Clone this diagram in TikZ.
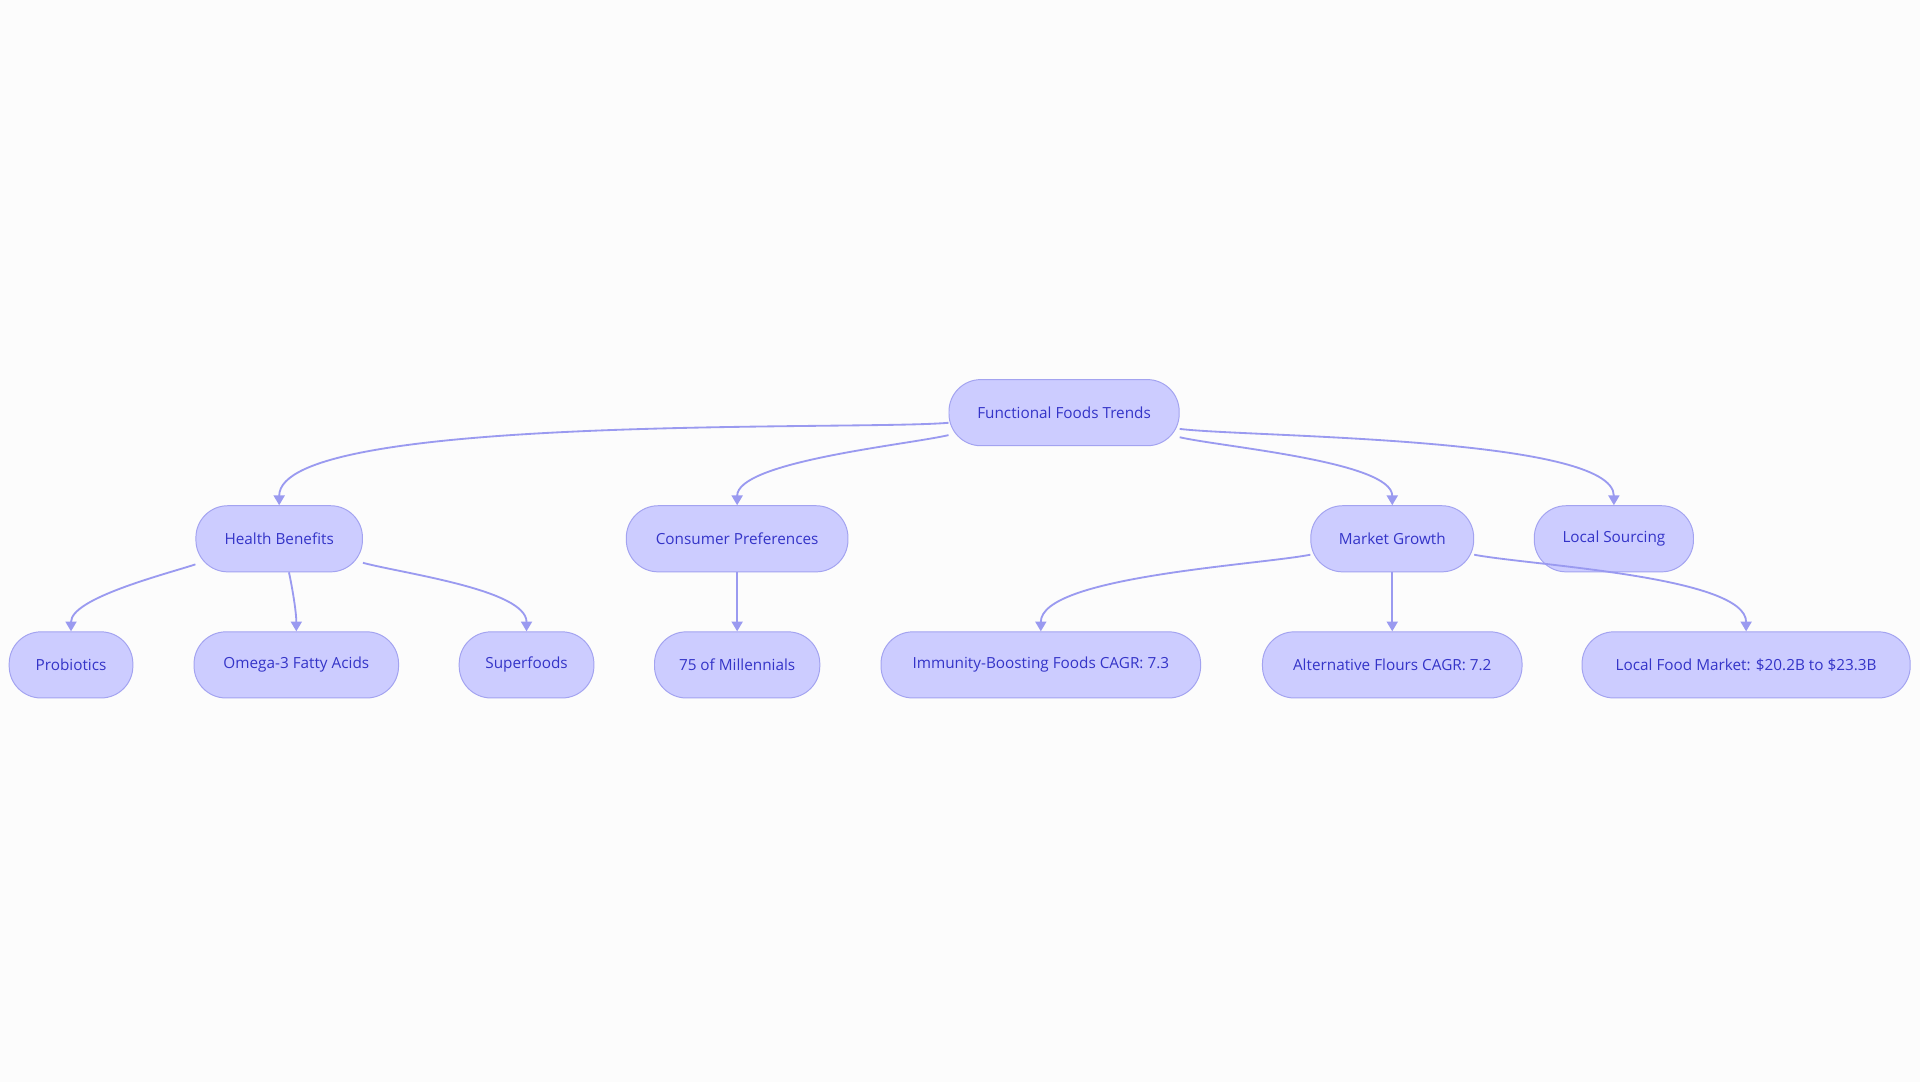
\documentclass[tikz,border=0pt]{standalone}
\usepackage{fontspec}
\setmainfont{Open Sans}
\usetikzlibrary{arrows.meta}
\definecolor{nfill}{HTML}{CCCCFF}
\definecolor{nline}{HTML}{A3A3F0}
\definecolor{ntext}{HTML}{3434C8}
\definecolor{eline}{HTML}{9A9AF0}
\begin{document}
\begin{tikzpicture}[x=1pt,y=-1pt,
 box/.style={draw=nline,fill=nfill,text=ntext,rounded corners=26pt,minimum height=54pt,inner sep=0pt,font=\fontsize{12.5}{14}\selectfont,line width=0.8pt},
 edge/.style={draw=eline,line width=1.5pt,-{Triangle[length=8pt,width=9pt]}}]
\fill[white!98!gray] (0,0) rectangle (1568,884);
\useasboundingbox (0,0) rectangle (1568,884);
\node[box,minimum width=188pt] (fft) at (869,337) {Functional Foods Trends};
\node[box,minimum width=136pt] (hb) at (228,440) {Health Benefits};
\node[box,minimum width=181pt] (cp) at (602,440) {Consumer Preferences};
\node[box,minimum width=133pt] (mg) at (1137,440) {Market Growth};
\node[box,minimum width=130pt] (ls) at (1318,440) {Local Sourcing};
\node[box,minimum width=101pt] (pr) at (58,543) {Probiotics};
\node[box,minimum width=167pt] (om) at (242,543) {Omega-3 Fatty Acids};
\node[box,minimum width=110pt] (sf) at (430,543) {Superfoods};
\node[box,minimum width=135pt] (ml) at (602,543) {75 of Millennials};
\node[box,minimum width=261pt] (im) at (850,543) {Immunity-Boosting Foods CAGR: 7.3};
\node[box,minimum width=212pt] (af) at (1137,543) {Alternative Flours CAGR: 7.2};
\node[box,minimum width=268pt] (lf) at (1426,543) {Local Food Market: \$20.2B to \$23.3B};
\draw[edge] (fft.185) to[out=185,in=90,looseness=0.35] (hb.north);
\draw[edge] (fft.191.4) to[out=193,in=90,looseness=0.5] (cp.north);
\draw[edge] (fft.348.6) to[out=-13,in=90,looseness=0.5] (mg.north);
\draw[edge] (fft.352.7) to[out=-7,in=90,looseness=0.4] (ls.north);
\draw[edge] (hb.197.9) to[out=198,in=90,looseness=0.6] (pr.north);
\draw[edge] ([xshift=8pt]hb.south) to[out=-78,in=90,looseness=0.8] (om.north);
\draw[edge] (hb.344.4) to[out=-15,in=90,looseness=0.6] (sf.north);
\draw[edge] (cp.south) -- (ml.north);
\draw[edge] (mg.191) to[out=191,in=90,looseness=0.5] (im.north);
\draw[edge] (mg.south) -- (af.north);
\draw[edge] (mg.349) to[out=-11,in=90,looseness=0.5] (lf.north);
\end{tikzpicture}
\end{document}
